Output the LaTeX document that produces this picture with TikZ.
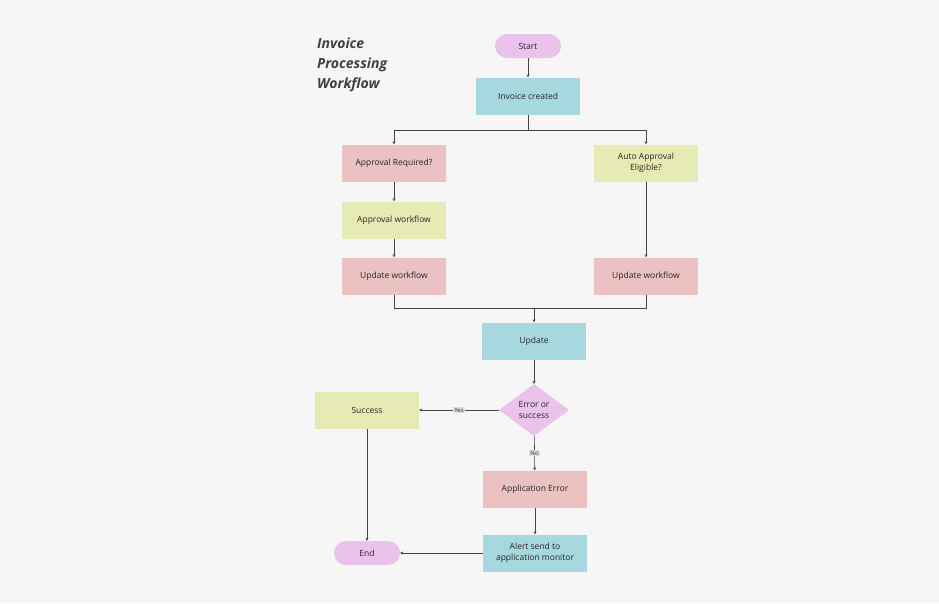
\documentclass[tikz,border=0pt]{standalone}
\usepackage{fontspec}
\setmainfont{Open Sans}
\usetikzlibrary{shapes.geometric,arrows.meta}
\definecolor{bg}{HTML}{F6F6F6}
\definecolor{cpink}{HTML}{E9C3EC}
\definecolor{ccyan}{HTML}{A7D8DF}
\definecolor{csal}{HTML}{EBC1C1}
\definecolor{clime}{HTML}{E5EBB2}
\definecolor{cline}{HTML}{444444}
\begin{document}
\begin{tikzpicture}[x=1pt,y=-1pt,
  every node/.style={font=\fontsize{8.5}{10.5}\selectfont, text=black!85, align=center, inner sep=0pt},
  box/.style={minimum width=104pt, minimum height=37pt},
  term/.style={rounded corners=12pt, fill=cpink, minimum width=66pt, minimum height=24pt},
  dia/.style={diamond, fill=cpink, minimum width=70pt, minimum height=52pt, aspect=1.35},
  ln/.style={draw=cline, line width=0.6pt},
  ar/.style={ln, -{Stealth[length=3pt,width=3pt]}},
  lab/.style={fill=black!12, font=\fontsize{6}{7}\selectfont, inner sep=1pt}]
\fill[bg] (0,0) rectangle (939,603);
\useasboundingbox (0,0) rectangle (939,603);
\node[anchor=west, font=\fontsize{14}{20}\selectfont\bfseries\itshape, text=black!75, align=left] (title) at (317,65) {Invoice\\Processing\\Workflow};
\node[term] (start) at (528,46) {Start};
\node[box, fill=ccyan] (inv) at (528,96) {Invoice created};
\node[box, fill=csal] (appr) at (394,163) {Approval Required?};
\node[box, fill=clime] (auto) at (646,163) {Auto Approval\\Eligible?};
\node[box, fill=clime] (aw) at (394,220) {Approval workflow};
\node[box, fill=csal] (uwl) at (394,276) {Update workflow};
\node[box, fill=csal] (uwr) at (646,276) {Update workflow};
\node[box, fill=ccyan] (upd) at (534,341) {Update};
\node[dia] (dec) at (534,410) {Error or\\success};
\node[box, fill=clime] (succ) at (367,410) {Success};
\node[box, fill=csal] (aerr) at (535,489) {Application Error};
\node[box, fill=ccyan] (alert) at (535,553) {Alert send to\\application monitor};
\node[term] (end) at (367,553) {End};
\coordinate (j1) at (528,130);
\coordinate (j2) at (534,308);
\draw[ar] (start) -- (inv);
\draw[ln] (inv) -- (j1);
\draw[ar] (j1) -| (appr);
\draw[ar] (j1) -| (auto);
\draw[ar] (appr) -- (aw);
\draw[ar] (aw) -- (uwl);
\draw[ar] (auto) -- (uwr);
\draw[ln] (uwl.south) |- (j2);
\draw[ln] (uwr.south) |- (j2);
\draw[ar] (j2) -- (upd);
\draw[ar] (upd) -- (dec);
\draw[ar] (dec) -- node[lab] {Yes} (succ);
\draw[ar] (dec) -- node[lab] {No} (aerr);
\draw[ar] (aerr) -- (alert);
\draw[ar] (succ) -- (end);
\draw[ar] (alert) -- (end);
\end{tikzpicture}
\end{document}
